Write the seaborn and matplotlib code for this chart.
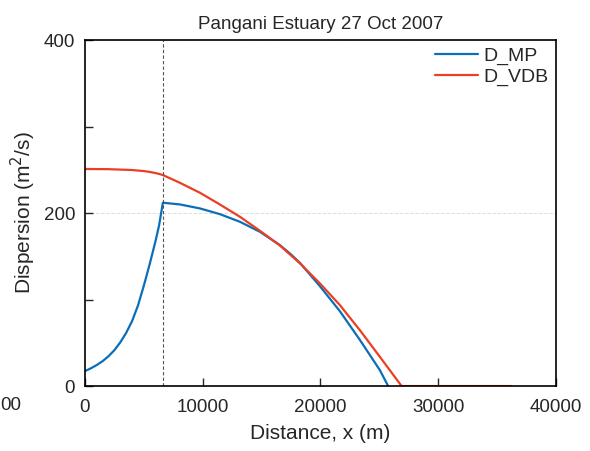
import numpy as np
import pandas as pd
import matplotlib
matplotlib.use("Agg")
import matplotlib.pyplot as plt
import seaborn as sns

# values
x_mp = [0, 500, 1000, 1500, 2000, 2500, 3000, 3500, 4000, 4500, 5000, 5500,
        6000, 6300, 6620, 8070, 9770, 11460, 13160, 14860, 16560, 17410, 18260,
        19960, 21660, 23350, 25050, 25760]
d_mp = [17.3, 20.5, 24.3, 28.8, 34.5, 41.5, 50.5, 61.5, 75, 93, 116, 141,
        168, 186, 212, 210, 205.4, 198.8, 190, 178.4, 163, 153.4, 142.5,
        115.5, 86.5, 53.5, 18.5, 0]

x_vdb = [0, 2000, 4000, 5000, 5500, 6000, 6370, 6620, 8070, 9770, 11460, 13160, 14860,
         16560, 18260, 19960, 21660, 23350, 25050, 26900, 36200]
d_vdb = [251, 250.8, 249.8, 248.6, 247.6, 246.3, 245, 244, 235, 223.5, 210, 195.8, 179.6,
         162.5, 142, 118.7, 93.6, 64.7, 33.9, 0, 0]

x_break = 6620

df = pd.concat([
    pd.DataFrame({"x": x_mp, "D": d_mp, "series": "D_MP"}),
    pd.DataFrame({"x": x_vdb, "D": d_vdb, "series": "D_VDB"}),
])

sns.set_style("ticks")
plt.rcParams['font.family'] = ['Liberation Sans', 'DejaVu Sans']

fig = plt.figure(figsize=(5.9, 4.51), dpi=100)
ax = fig.add_axes([0.144, 0.144, 0.798, 0.767])

sns.lineplot(data=df, x="x", y="D", hue="series", sort=False, estimator=None,
             palette={"D_MP": "#0a6fb8", "D_VDB": "#eb3f23"}, linewidth=1.6, ax=ax)

ax.axvline(x_break, color="#555555", linestyle="--", linewidth=0.8, dashes=(3, 2))

ax.set_xlim(0, 40000)
ax.set_ylim(0, 400)
ax.set_xticks([0, 10000, 20000, 30000, 40000])
ax.set_yticks([0, 200, 400])
ax.set_yticks([100, 300], minor=True)
ax.tick_params(direction="in", labelsize=13.5, length=6, width=1)
ax.tick_params(axis="x", pad=9)
ax.tick_params(axis="y", pad=7)
ax.tick_params(which="minor", direction="in", length=6, width=1)
ax.yaxis.grid(True, which="major", color="#dddddd", linestyle="--", linewidth=0.7)
for s in ax.spines.values():
    s.set_linewidth(1.2)
    s.set_color("black")

ax.set_xlabel("Distance, x (m)", fontsize=15, labelpad=6)
ax.set_ylabel("Dispersion (m$^2$/s)", fontsize=15, labelpad=4)
ax.set_title("Pangani Estuary 27 Oct 2007", fontsize=13.5, pad=8)

leg = ax.legend(loc="upper right", frameon=False, fontsize=14, handlelength=2.2,
                borderaxespad=0.25, borderpad=0.1, handletextpad=0.3, labelspacing=0.2)
leg.set_title(None)

fig.text(0.0, 1 - 405 / 451, "00", fontsize=13.5, va="center")

fig.savefig("out.png", dpi=100)
